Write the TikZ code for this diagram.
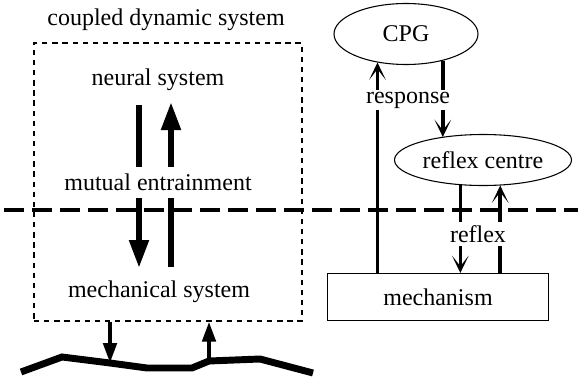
\documentclass[tikz,border=0pt]{standalone}
\usepackage{fontspec}
\setmainfont{Liberation Serif}
\usetikzlibrary{arrows.meta,shapes.geometric}

\tikzset{
  lbl/.style={inner sep=0pt,font=\rmfamily\fontsize{18}{20}\selectfont},
  gaplbl/.style={lbl,fill=white,inner xsep=1.5pt},
  bigarr/.style={line width=4.5pt,-{Triangle[length=21pt,width=14pt]}},
  gndarr/.style={line width=3pt,-{Triangle[length=15pt,width=10pt]}},
  sigarr/.style={line width=2.6pt,-{Stealth[length=13pt,width=12.5pt,inset=8pt]}},
  blob/.style={lbl,draw,ellipse,line width=0.8pt},
}

\begin{document}
\begin{tikzpicture}[x=0.75pt,y=0.75pt,yscale=-1,xscale=1]
\useasboundingbox (0,0) rectangle (578,382);

% coupled system, left half
\node[lbl] (title) at (166,20) {coupled dynamic system};
\node[draw,line width=1.1pt,dash pattern=on 4pt off 3.6pt,minimum width=201pt,minimum height=208.5pt] (cds) at (168,182) {};
\node[lbl] (neural) at (158,80) {neural system};
\node[lbl] (mechsys) at (159,292) {mechanical system};

% entrainment arrows
\coordinate (dntop) at (139,105);
\coordinate (dnbot) at (139,268);
\coordinate (uptop) at (171,102);
\coordinate (upbot) at (171,267);
\draw[bigarr] (dntop) -- (dnbot);
\draw[bigarr] (upbot) -- (uptop);
\node[gaplbl,inner ysep=5.6pt] (mutual) at (158,182.5) {mutual entrainment};

% ground
\draw[line width=5.2pt] (21,372) -- (62,357) -- (110,363) coordinate (gl) -- (147,368) -- (192,368) -- (209,361) coordinate (gr) -- (260,359) -- (313,373);
\draw[gndarr] (cds.south -| gl) -- (gl);
\draw[gndarr] (gr) -- (cds.south -| gr);

% controller, right half
\node[blob,minimum width=108pt,minimum height=45.75pt] (cpg) at (406,34) {CPG};
\node[blob,minimum width=132.75pt,minimum height=38.25pt] (rc) at (483,160) {reflex centre};
\node[lbl,draw,line width=0.8pt,minimum width=165.75pt,minimum height=35.25pt] (mech) at (438,297) {mechanism};

\draw[sigarr] (mech.north -| cpg.-135) -- (cpg.-135);
\draw[sigarr] (cpg.-36) -- (cpg.-36 |- rc.151);
\draw[sigarr] (rc.-132) -- (rc.-132 |- mech.north);
\draw[sigarr] (rc.-56 |- mech.north) -- (rc.-56);
\node[gaplbl,inner ysep=1.6pt] (resp) at (408,100) {response};
\node[gaplbl,inner ysep=2.5pt] (refl) at (478,234) {reflex};

% boundary between controller and body
\draw[line width=3pt,dash pattern=on 15pt off 6pt,dash phase=18pt] (0,210) -- (578,210);

\end{tikzpicture}
\end{document}
